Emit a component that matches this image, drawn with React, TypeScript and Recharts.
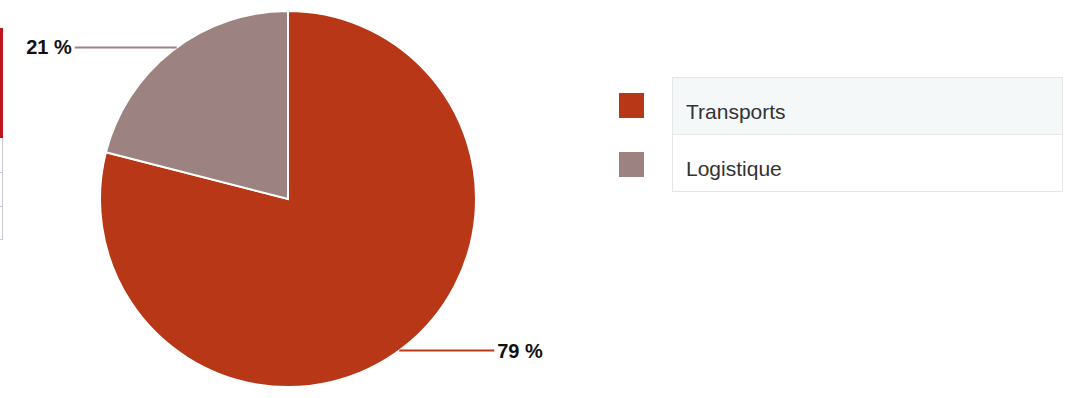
import React from "react";
import { PieChart, Pie, Cell } from "recharts";

const categories = ["Transports", "Logistique"];
const values = [79, 21];
const colors = ["#b73716", "#9c8382"];
const labelTexts = ["79 %", "21 %"];

const data = categories.map((name, i) => ({ name, value: values[i] }));

const RAD = Math.PI / 180;

const renderLabel = (props: any) => {
  const { cx, cy, midAngle, outerRadius, index } = props;
  const ym = cy + outerRadius * Math.sin(-midAngle * RAD);
  const xm = cx + outerRadius * Math.cos(-midAngle * RAD);
  const right = xm > cx;
  const y0 = ym + (ym > cy ? 3 : -3);
  const dx = Math.sqrt(Math.max(0, outerRadius * outerRadius - (y0 - cy) * (y0 - cy)));
  const x0 = right ? cx + dx : cx - dx;
  const x1 = right ? x0 + 95 : x0 - 102;
  return (
    <g>
      <line x1={x0} y1={y0} x2={x1} y2={y0} stroke={colors[index]} strokeWidth={2} />
      <text
        x={right ? x1 + 3 : x1 - 3}
        y={y0}
        textAnchor={right ? "start" : "end"}
        dominantBaseline="central"
        fill="#111"
        fontFamily="Liberation Sans, Arial, sans-serif"
        fontWeight="bold"
        fontSize={20}
      >
        {labelTexts[index]}
      </text>
    </g>
  );
};

const LegendTable = () => (
  <div style={{ position: "absolute", left: 619, top: 77, width: 444, height: 116, fontFamily: "Liberation Sans, Arial, sans-serif" }}>
    {categories.map((c, i) => (
      <React.Fragment key={c}>
        <div
          style={{
            position: "absolute",
            left: 0,
            top: 16 + i * 59,
            width: 25,
            height: 25,
            background: colors[i],
          }}
        />
        <div
          style={{
            position: "absolute",
            left: 53,
            top: i * 58,
            width: 391,
            height: i === 0 ? 58 : 57,
            boxSizing: "border-box",
            border: "1px solid #e6e6e6",
            borderTop: i === 0 ? "1px solid #e6e6e6" : "none",
            background: i === 0 ? "#f5f8f9" : "#ffffff",
            color: "#333",
            fontSize: 21,
            lineHeight: "20px",
            paddingTop: 24,
            paddingLeft: 13,
            textAlign: "left",
          }}
        >
          {c}
        </div>
      </React.Fragment>
    ))}
  </div>
);

export default function App() {
  return (
    <div style={{ position: "absolute", left: 0, top: 0, width: 1068, height: 398, background: "#fff" }}>
      <div style={{ position: "absolute", left: 0, top: 28, width: 3, height: 110, background: "#c0151c" }} />
      <div style={{ position: "absolute", left: 0, top: 138, width: 3, height: 102, borderRight: "1px solid #c9c9dc", boxSizing: "border-box" }} />
      <div style={{ position: "absolute", left: 0, top: 172, width: 3, height: 1, background: "#c9c9dc" }} />
      <div style={{ position: "absolute", left: 0, top: 206, width: 3, height: 1, background: "#c9c9dc" }} />
      <div style={{ position: "absolute", left: 0, top: 239, width: 3, height: 1, background: "#c9c9dc" }} />
      <div style={{ position: "absolute", left: 0, top: 0 }}>
        <PieChart width={600} height={398} margin={{ top: 0, right: 0, bottom: 0, left: 0 }}>
          <Pie
            data={data}
            dataKey="value"
            nameKey="name"
            cx={288}
            cy={199}
            outerRadius={188}
            startAngle={90}
            endAngle={-270}
            stroke="#ffffff"
            strokeWidth={2}
            label={renderLabel}
            labelLine={false}
            isAnimationActive={false}
          >
            {data.map((d, i) => (
              <Cell key={d.name} fill={colors[i]} />
            ))}
          </Pie>
        </PieChart>
      </div>
      <LegendTable />
    </div>
  );
}
